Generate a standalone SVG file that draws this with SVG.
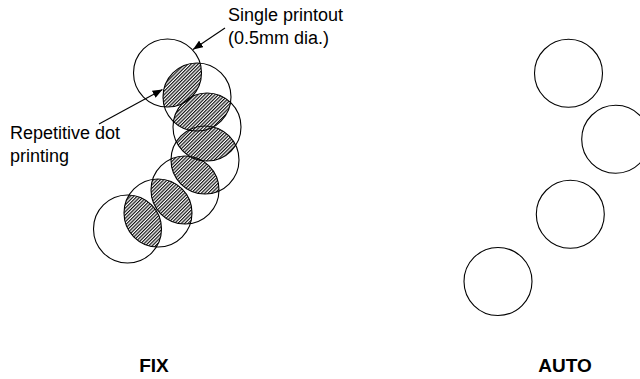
<svg xmlns="http://www.w3.org/2000/svg" width="640" height="379" viewBox="0 0 640 379">
<style>
.c{fill:none;stroke:#000;stroke-width:1.1}
.t{font-family:"Liberation Sans",Arial,sans-serif;font-size:18px;fill:#000}
.b{font-family:"Liberation Sans",Arial,sans-serif;font-size:19px;font-weight:bold;fill:#000;text-anchor:middle}
.a{stroke:#000;stroke-width:1.1;fill:none;marker-end:url(#ah)}
.h{fill:url(#hatch)}
</style>
<defs>
<pattern id="hatch" patternUnits="userSpaceOnUse" width="2.4" height="2.4" patternTransform="rotate(45)">
<rect width="2.4" height="2.4" fill="#fff"/>
<line x1="0.6" y1="0" x2="0.6" y2="2.4" stroke="#000" stroke-width="1.1"/>
</pattern>
<marker id="ah" viewBox="0 0 10 8" refX="10" refY="4" markerWidth="10" markerHeight="8" markerUnits="userSpaceOnUse" orient="auto">
<path d="M0,0 L10,4 L0,8 Z" fill="#000"/>
</marker>
<clipPath id="k1"><circle cx="167.5" cy="73" r="34"/></clipPath>
<clipPath id="k2"><circle cx="197" cy="97" r="34"/></clipPath>
<clipPath id="k3"><circle cx="207" cy="127" r="34"/></clipPath>
<clipPath id="k4"><circle cx="205" cy="160" r="34"/></clipPath>
<clipPath id="k5"><circle cx="185" cy="190" r="34"/></clipPath>
<clipPath id="k6"><circle cx="158" cy="213" r="34"/></clipPath>
</defs>
<rect width="640" height="379" fill="#fff"/>
<g id="fix">
<g id="lenses">
<circle class="h" cx="197" cy="97" r="34" clip-path="url(#k1)"/>
<circle class="h" cx="207" cy="127" r="34" clip-path="url(#k2)"/>
<circle class="h" cx="205" cy="160" r="34" clip-path="url(#k3)"/>
<circle class="h" cx="185" cy="190" r="34" clip-path="url(#k4)"/>
<circle class="h" cx="158" cy="213" r="34" clip-path="url(#k5)"/>
<circle class="h" cx="127.5" cy="229" r="34" clip-path="url(#k6)"/>
</g>
<g id="fix-dots">
<circle class="c" cx="167.5" cy="73" r="34"/>
<circle class="c" cx="197" cy="97" r="34"/>
<circle class="c" cx="207" cy="127" r="34"/>
<circle class="c" cx="205" cy="160" r="34"/>
<circle class="c" cx="185" cy="190" r="34"/>
<circle class="c" cx="158" cy="213" r="34"/>
<circle class="c" cx="127.5" cy="229" r="34"/>
</g>
<text class="b" x="154" y="372">FIX</text>
</g>
<g id="auto">
<circle class="c" cx="568.5" cy="73.3" r="34"/>
<circle class="c" cx="615.7" cy="139.3" r="34"/>
<circle class="c" cx="570.3" cy="214.3" r="34"/>
<circle class="c" cx="498" cy="281.5" r="34"/>
<text class="b" x="565" y="372">AUTO</text>
</g>
<g id="label-single">
<text class="t" x="228" y="21">Single printout</text>
<text class="t" x="228" y="44">(0.5mm dia.)</text>
</g>
<g id="label-repetitive">
<text class="t" x="10" y="139">Repetitive dot</text>
<text class="t" x="10" y="162">printing</text>
</g>
<g id="connectors">
<line class="a" x1="225" y1="28" x2="193" y2="49.5"/>
<line class="a" x1="99" y1="124" x2="162.5" y2="89.5"/>
</g>
</svg>
